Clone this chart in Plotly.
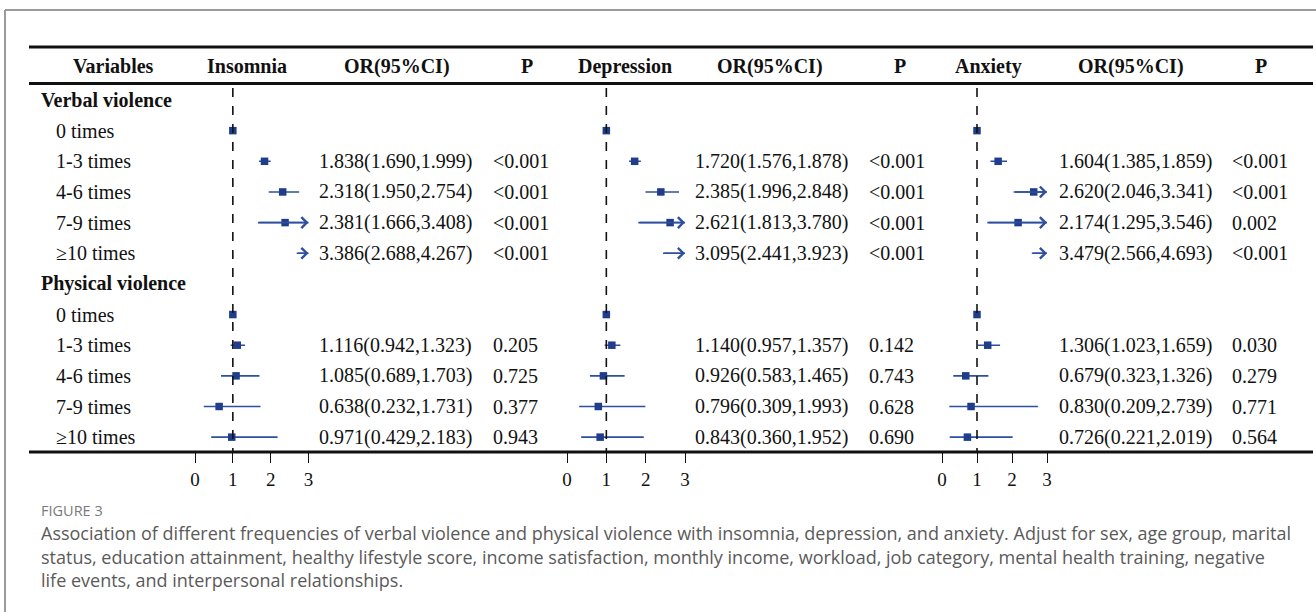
import plotly.graph_objects as go

# ---------------- data ----------------
row_labels = ["Verbal violence", "0 times", "1-3 times", "4-6 times", "7-9 times", "≥10 times",
              "Physical violence", "0 times", "1-3 times", "4-6 times", "7-9 times", "≥10 times"]
row_is_group = [True, False, False, False, False, False, True, False, False, False, False, False]

insomnia_or = [None, 1.0, 1.838, 2.318, 2.381, 3.386, None, 1.0, 1.116, 1.085, 0.638, 0.971]
insomnia_lo = [None, None, 1.690, 1.950, 1.666, 2.688, None, None, 0.942, 0.689, 0.232, 0.429]
insomnia_hi = [None, None, 1.999, 2.754, 3.408, 4.267, None, None, 1.323, 1.703, 1.731, 2.183]
insomnia_p = ["", "", "<0.001", "<0.001", "<0.001", "<0.001", "", "", "0.205", "0.725", "0.377", "0.943"]

depression_or = [None, 1.0, 1.720, 2.385, 2.621, 3.095, None, 1.0, 1.140, 0.926, 0.796, 0.843]
depression_lo = [None, None, 1.576, 1.996, 1.813, 2.441, None, None, 0.957, 0.583, 0.309, 0.360]
depression_hi = [None, None, 1.878, 2.848, 3.780, 3.923, None, None, 1.357, 1.465, 1.993, 1.952]
depression_p = ["", "", "<0.001", "<0.001", "<0.001", "<0.001", "", "", "0.142", "0.743", "0.628", "0.690"]

anxiety_or = [None, 1.0, 1.604, 2.620, 2.174, 3.479, None, 1.0, 1.306, 0.679, 0.830, 0.726]
anxiety_lo = [None, None, 1.385, 2.046, 1.295, 2.566, None, None, 1.023, 0.323, 0.209, 0.221]
anxiety_hi = [None, None, 1.859, 3.341, 3.546, 4.693, None, None, 1.659, 1.326, 2.739, 2.019]
anxiety_p = ["", "", "<0.001", "<0.001", "0.002", "<0.001", "", "", "0.030", "0.279", "0.771", "0.564"]

outcomes = ["Insomnia", "Depression", "Anxiety"]
x_ticks = [0, 1, 2, 3]
axis_cap = 3

caption_label = "FIGURE 3"
caption_lines = [
    "Association of different frequencies of verbal violence and physical violence with insomnia, depression, and anxiety. Adjust for sex, age group, marital",
    "status, education attainment, healthy lifestyle score, income satisfaction, monthly income, workload, job category, mental health training, negative",
    "life events, and interpersonal relationships.",
]

# ---------------- layout helpers ----------------
W, H = 1316, 612
SERIF = "Liberation Serif, Times New Roman, serif"
BLUE_M = "#1f3d8a"
BLUE_L = "#2d4f9e"
TXT = "#111111"


def px(xp):
    return xp / W


def py(yp):
    return 1 - yp / H


Y_BOTTOM = 452          # pixel of bottom rule / x axes
ROW0 = 100              # pixel of first row
STEP = 30.65            # pixel per row
y_lo = -ROW0 / STEP
y_hi = y_lo + Y_BOTTOM / STEP

panels = [
    dict(name=outcomes[0], ors=insomnia_or, lo=insomnia_lo, hi=insomnia_hi, p=insomnia_p,
         zero=195, three=308.5, or_x=317, p_x=491, head=247, orhead=397, phead=527),
    dict(name=outcomes[1], ors=depression_or, lo=depression_lo, hi=depression_hi, p=depression_p,
         zero=567, three=685, or_x=693, p_x=867, head=625, orhead=770, phead=900),
    dict(name=outcomes[2], ors=anxiety_or, lo=anxiety_lo, hi=anxiety_hi, p=anxiety_p,
         zero=942, three=1047, or_x=1057, p_x=1230, head=988, orhead=1131, phead=1261),
]

fig = go.Figure()
annotations = []
shapes = []
layout_axes = {}

PAD = 0.5
for k, pn in enumerate(panels):
    ax_id = "x" if k == 0 else f"x{k + 1}"
    ax_key = "xaxis" if k == 0 else f"xaxis{k + 1}"
    unit = (pn["three"] - pn["zero"]) / 3.0
    layout_axes[ax_key] = dict(
        domain=[px(pn["zero"] - PAD * unit), px(pn["three"] + PAD * unit)],
        range=[-PAD, 3 + PAD],
        anchor="y",
        tickmode="array", tickvals=x_ticks, ticktext=[str(t) for t in x_ticks],
        ticks="outside", ticklen=10, tickwidth=1.3, tickcolor="#111",
        showline=False, showgrid=False, zeroline=False,
        tickfont=dict(family=SERIF, size=19, color=TXT),
        fixedrange=True,
    )

    # CI lines
    xs, ys = [], []
    for i, (lo, hi) in enumerate(zip(pn["lo"], pn["hi"])):
        if lo is None:
            continue
        xs += [lo, min(hi, axis_cap), None]
        ys += [i, i, None]
    fig.add_trace(go.Scatter(x=xs, y=ys, xaxis=ax_id, yaxis="y", mode="lines",
                             line=dict(color=BLUE_L, width=1.6), hoverinfo="skip",
                             showlegend=False))

    # arrows for truncated CIs
    for i, (lo, hi) in enumerate(zip(pn["lo"], pn["hi"])):
        if lo is not None and hi > axis_cap:
            annotations.append(dict(
                x=axis_cap, y=i, xref=ax_id, yref="y",
                ax=lo, ay=i, axref=ax_id, ayref="y",
                text="", showarrow=True, arrowhead=4, arrowsize=1.4, arrowwidth=1.5,
                arrowcolor=BLUE_L, standoff=0, startstandoff=0,
            ))

    # point estimates
    mx, my = [], []
    for i, v in enumerate(pn["ors"]):
        if v is not None and v <= axis_cap:
            mx.append(v)
            my.append(i)
    fig.add_trace(go.Scatter(x=mx, y=my, xaxis=ax_id, yaxis="y", mode="markers",
                             marker=dict(symbol="square", size=7.5, color=BLUE_M),
                             cliponaxis=False, hoverinfo="skip", showlegend=False))

    # reference dashed line at OR = 1
    shapes.append(dict(type="line", xref=ax_id, yref="paper", x0=1, x1=1,
                       y0=py(88), y1=py(Y_BOTTOM), line=dict(color="#111", width=1.6, dash="dash")))

    # OR text and P text
    for i, v in enumerate(pn["ors"]):
        if pn["lo"][i] is None:
            continue
        annotations.append(dict(
            x=px(pn["or_x"]), y=i, xref="paper", yref="y", xanchor="left", yanchor="middle",
            text=f"{v:.3f}({pn['lo'][i]:.3f},{pn['hi'][i]:.3f})", showarrow=False,
            font=dict(family=SERIF, size=20, color=TXT)))
        annotations.append(dict(
            x=px(pn["p_x"]), y=i, xref="paper", yref="y", xanchor="left", yanchor="middle",
            text=pn["p"][i], showarrow=False,
            font=dict(family=SERIF, size=20, color=TXT)))

    # headers
    for hx, htxt in [(pn["head"], pn["name"]), (pn["orhead"], "OR(95%CI)"), (pn["phead"], "P")]:
        annotations.append(dict(
            x=px(hx), y=py(66), xref="paper", yref="paper", xanchor="center", yanchor="middle",
            text=f"<b>{htxt}</b>", showarrow=False,
            font=dict(family=SERIF, size=20, color=TXT)))

annotations.append(dict(
    x=px(113), y=py(66), xref="paper", yref="paper", xanchor="center", yanchor="middle",
    text="<b>Variables</b>", showarrow=False, font=dict(family=SERIF, size=20, color=TXT)))

# row labels
for i, (lab, grp) in enumerate(zip(row_labels, row_is_group)):
    annotations.append(dict(
        x=px(39 if grp else 54), y=i, xref="paper", yref="y", xanchor="left", yanchor="middle",
        text=f"<b>{lab}</b>" if grp else lab, showarrow=False,
        font=dict(family=SERIF, size=20, color=TXT)))

# table rules
for yy in [47, 83.5, Y_BOTTOM]:
    shapes.append(dict(type="line", xref="paper", yref="paper", x0=px(29), x1=px(1313),
                       y0=py(yy), y1=py(yy), line=dict(color="#111", width=3)))

# outer grey frame (top and left)
shapes.append(dict(type="line", xref="paper", yref="paper", x0=px(5), x1=1.0,
                   y0=py(10), y1=py(10), line=dict(color="#9a9a9a", width=2)))
shapes.append(dict(type="line", xref="paper", yref="paper", x0=px(5), x1=px(5),
                   y0=py(10), y1=0.0, line=dict(color="#9a9a9a", width=2)))

# caption
SANS = "Open Sans, Lato, sans-serif"
annotations.append(dict(
    x=px(39), y=py(510), xref="paper", yref="paper", xanchor="left", yanchor="middle",
    text=caption_label, showarrow=False, font=dict(family=SANS, size=14.5, color="#7a7a7a")))
for j, line in enumerate(caption_lines):
    annotations.append(dict(
        x=px(39), y=py(533 + 23.5 * j), xref="paper", yref="paper", xanchor="left", yanchor="middle",
        text=line, showarrow=False, font=dict(family=SANS, size=18, color="#5a5a5a")))

fig.update_layout(
    width=W, height=H, autosize=False,
    margin=dict(l=0, r=0, t=0, b=0),
    paper_bgcolor="white", plot_bgcolor="rgba(0,0,0,0)",
    yaxis=dict(domain=[1 - Y_BOTTOM / H, 1], range=[y_hi, y_lo], visible=False,
               anchor="x", fixedrange=True),
    annotations=annotations, shapes=shapes,
    showlegend=False,
    **layout_axes,
)

fig.write_html("out.html", config={"displayModeBar": False},
               post_script="document.body.style.margin='0';document.body.style.overflow='hidden';")
